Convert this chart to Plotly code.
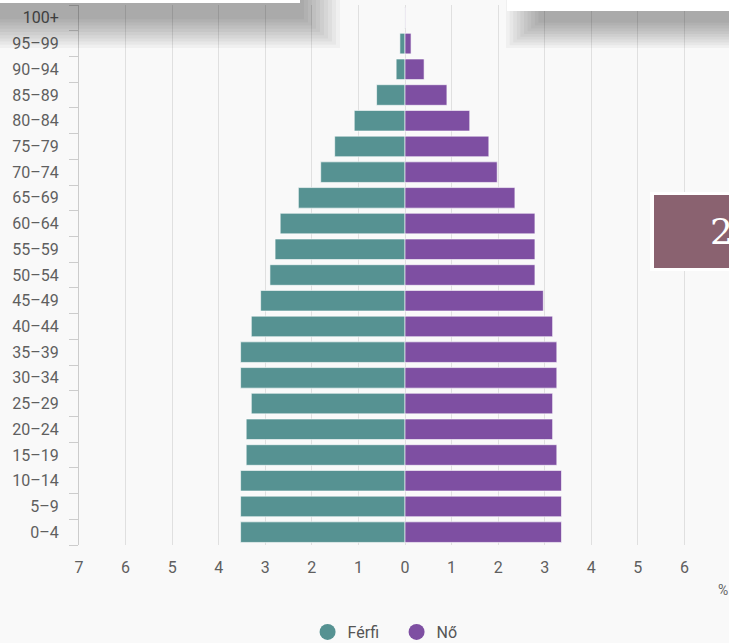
import plotly.graph_objects as go

age_groups = ["0–4", "5–9", "10–14", "15–19", "20–24", "25–29", "30–34", "35–39",
              "40–44", "45–49", "50–54", "55–59", "60–64", "65–69", "70–74", "75–79",
              "80–84", "85–89", "90–94", "95–99", "100+"]
male = [3.53, 3.53, 3.53, 3.41, 3.41, 3.30, 3.53, 3.53, 3.30, 3.10, 2.90, 2.79,
        2.68, 2.29, 1.81, 1.51, 1.09, 0.61, 0.19, 0.11, 0.005]
female = [3.36, 3.36, 3.36, 3.26, 3.17, 3.17, 3.26, 3.26, 3.17, 2.97, 2.79, 2.79,
          2.79, 2.36, 1.98, 1.80, 1.39, 0.90, 0.41, 0.13, 0.005]
x_ticks = [-7, -6, -5, -4, -3, -2, -1, 0, 1, 2, 3, 4, 5, 6, 7]
x_tick_labels = [str(abs(v)) for v in x_ticks]

TEAL = "#569292"
PURPLE = "#7e4fa2"
W, H = 729, 643
L, R, T, B = 79, 0, 5, 98

def px(x):
    return (x - L) / (W - L - R)

def py(y):
    return (H - B - y) / (H - T - B)

fig = go.Figure()
fig.add_trace(go.Bar(y=age_groups, x=[-v for v in male], orientation="h",
                     marker=dict(color=TEAL, line=dict(color="rgba(255,255,255,0.6)", width=1)),
                     showlegend=False, name="Férfi"))
fig.add_trace(go.Bar(y=age_groups, x=female, orientation="h",
                     marker=dict(color=PURPLE, line=dict(color="rgba(255,255,255,0.6)", width=1)),
                     showlegend=False, name="Nő"))
# legend entries with round markers
fig.add_trace(go.Scatter(x=[None], y=[None], mode="markers", name="Férfi",
                         marker=dict(color=TEAL, size=18, symbol="circle")))
fig.add_trace(go.Scatter(x=[None], y=[None], mode="markers", name="Nő",
                         marker=dict(color=PURPLE, size=18, symbol="circle")))

shapes = []
# soft shadows of overlaying page elements
N = 10
for k in range(N):
    f = 1 - k / N
    shapes.append(dict(type="rect", xref="paper", yref="paper", layer="above",
                       x0=px(-10), x1=px(300 + 40 * f), y0=py(-10), y1=py(16 + 32 * f),
                       line=dict(width=0), fillcolor="rgba(0,0,0,0.036)"))
    shapes.append(dict(type="rect", xref="paper", yref="paper", layer="above",
                       x0=px(542 - 36 * f), x1=px(740), y0=py(-10), y1=py(20 + 28 * f),
                       line=dict(width=0), fillcolor="rgba(0,0,0,0.036)"))
shapes.append(dict(type="rect", xref="paper", yref="paper", layer="above",
                   x0=px(-10), x1=px(300), y0=py(-10), y1=py(3),
                   line=dict(width=0), fillcolor="#ffffff"))
shapes.append(dict(type="rect", xref="paper", yref="paper", layer="above",
                   x0=px(507), x1=px(740), y0=py(-10), y1=py(11),
                   line=dict(width=0), fillcolor="#ffffff"))
# maroon badge
shapes.append(dict(type="rect", xref="paper", yref="paper", layer="above",
                   x0=px(650), x1=px(740), y0=py(192), y1=py(271),
                   line=dict(width=0), fillcolor="#ffffff"))
shapes.append(dict(type="rect", xref="paper", yref="paper", layer="above",
                   x0=px(654), x1=px(740), y0=py(195), y1=py(268),
                   line=dict(width=0), fillcolor="#8a6270"))

annotations = [
    dict(text="2", xref="paper", yref="paper", x=px(708), y=py(231), xanchor="left",
         yanchor="middle", showarrow=False,
         font=dict(family="DejaVu Serif, Liberation Serif, serif", size=36, color="#ffffff")),
    dict(text="%", xref="paper", yref="paper", x=px(723), y=py(590), xanchor="center",
         yanchor="middle", showarrow=False,
         font=dict(family="Roboto, sans-serif", size=14, color="#666666")),
]

fig.update_layout(
    width=W, height=H,
    margin=dict(l=L, r=R, t=T, b=B, autoexpand=False),
    paper_bgcolor="#f9f9f9", plot_bgcolor="#f9f9f9",
    barmode="relative", bargap=0.2,
    font=dict(family="Roboto, sans-serif", size=16, color="#5f5f5f"),
    xaxis=dict(range=[-7, 6.957], tickvals=x_ticks, ticktext=x_tick_labels,
               showgrid=True, gridcolor="#e0e0e0", gridwidth=1,
               zeroline=False, showline=False, ticks="outside", ticklen=8,
               tickcolor="rgba(0,0,0,0)", fixedrange=True,
               tickfont=dict(size=16)),
    yaxis=dict(type="category", categoryorder="array", categoryarray=age_groups,
               range=[-0.5, 20.5], showgrid=False, showline=True, linecolor="#cccccc",
               ticks="outside", tickson="boundaries", ticklen=9, tickcolor="#cccccc",
               ticklabelstandoff=16, tickfont=dict(size=16)),
    legend=dict(orientation="h", xref="container", yref="container",
                x=0.544, y=(H - 632) / H, xanchor="center", yanchor="middle",
                font=dict(size=16, color="#555555"), itemsizing="trace",
                entrywidth=44, bgcolor="rgba(0,0,0,0)"),
    shapes=shapes, annotations=annotations,
)

fig.write_html("out.html", config={"displayModeBar": False},
               post_script="document.body.style.margin='0';document.body.style.overflow='hidden';")
